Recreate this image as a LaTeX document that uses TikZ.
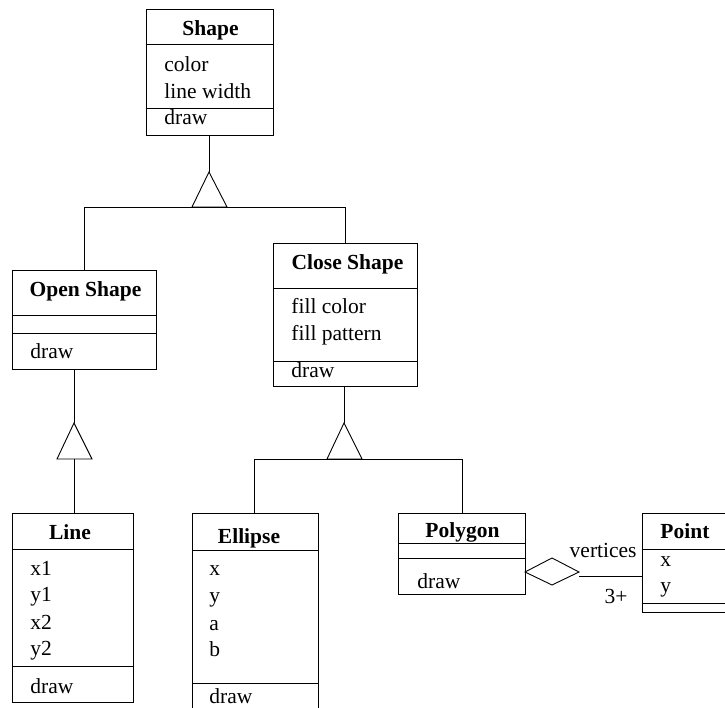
\documentclass[tikz,border=0pt]{standalone}
\usepackage{fontspec}
\setmainfont{Liberation Serif}
\begin{document}
\begin{tikzpicture}[x=1pt,y=-1pt,line width=0.9pt,
  box/.style={draw,inner sep=0pt,anchor=north west},
  txt/.style={inner sep=0pt,anchor=base west,font=\fontsize{21.5}{26}\selectfont},
  ttl/.style={inner sep=0pt,anchor=base,font=\fontsize{21.5}{26}\selectfont\bfseries},
  lbl/.style={inner sep=0pt,anchor=base east,font=\fontsize{21.5}{26}\selectfont},
  tri/.style={draw,fill=white,line join=miter}]
\useasboundingbox (0,0) rectangle (725,708);
\clip (0,0) rectangle (725,708);

% ---- boxes ----
\node[box,minimum width=127pt,minimum height=126pt] (shape) at (146,9) {};
\node[box,minimum width=144pt,minimum height=99pt] (open) at (12,270) {};
\node[box,minimum width=144pt,minimum height=143pt] (close) at (273,243) {};
\node[box,minimum width=121pt,minimum height=189pt] (line) at (12,513) {};
\node[box,minimum width=126pt,minimum height=215pt] (ellipse) at (192,513) {};
\node[box,minimum width=127pt,minimum height=81pt] (polygon) at (398,513) {};
\node[box,minimum width=88pt,minimum height=99pt] (point) at (642,513) {};

% ---- dividers ----
\foreach \n/\y in {shape/44,shape/108,open/315,open/333,close/288,close/361,
  line/549,line/666,ellipse/550,ellipse/683,polygon/543,polygon/558,point/549,point/603}
  \draw (\n.west |- 0,\y) -- (\n.east |- 0,\y);

% ---- texts ----
\node[ttl] (tshape) at (210.5,36) {Shape};
\node[txt] (shc) at (164,72) {color};
\node[txt] (shl) at (164,99) {line width};
\node[txt] (shd) at (164,125) {draw};

\node[ttl] (topen) at (85.5,297) {Open Shape};
\node[txt] (opd) at (30,359) {draw};

\node[ttl] (tclose) at (347.5,270) {Close Shape};
\node[txt] (clf) at (291,314) {fill color};
\node[txt] (clp) at (291,341) {fill pattern};
\node[txt] (cld) at (291,377) {draw};

\node[ttl] (tline) at (70,539) {Line};
\node[txt] (lx1) at (30,575) {x1};
\node[txt] (ly1) at (30,601) {y1};
\node[txt] (lx2) at (30,629) {x2};
\node[txt] (ly2) at (30,655) {y2};
\node[txt] (ld) at (30,693) {draw};

\node[ttl] (tell) at (249,543) {Ellipse};
\node[txt] (ex) at (209,575) {x};
\node[txt] (ey) at (209,602) {y};
\node[txt] (ea) at (209,630) {a};
\node[txt] (eb) at (209,656) {b};
\node[txt] (ed) at (209,703) {draw};

\node[ttl] (tpoly) at (462.5,537) {Polygon};
\node[txt] (pd) at (417,588) {draw};

\node[ttl,anchor=base west] (tpoint) at (660,538) {Point};
\node[txt] (ptx) at (660,566) {x};
\node[txt] (pty) at (660,592) {y};

% ---- generalization Shape ----
\coordinate (a1) at (209,172);
\coordinate (b1l) at (192,207);
\coordinate (b1r) at (227,207);
\coordinate (h1l) at (84,207);
\coordinate (h1r) at (345,207);
\draw (shape.south -| a1) -- (a1);
\draw[tri] (b1l) -- (a1) -- (b1r) -- cycle;
\draw (h1l) -- (h1r);
\draw (h1l) -- (open.north -| h1l);
\draw (h1r) -- (close.north -| h1r);

% ---- generalization Open Shape ----
\coordinate (a2) at (74,423);
\coordinate (b2l) at (57,459);
\coordinate (b2r) at (92,459);
\coordinate (b2m) at (74,459);
\draw (open.south -| a2) -- (a2);
\draw[tri] (b2l) -- (a2) -- (b2r) -- cycle;
\draw (b2m) -- (line.north -| b2m);

% ---- generalization Close Shape ----
\coordinate (a3) at (344,423);
\coordinate (b3l) at (327,459);
\coordinate (b3r) at (362,459);
\coordinate (h3l) at (254,459);
\coordinate (h3r) at (462,459);
\draw (close.south -| a3) -- (a3);
\draw[tri] (b3l) -- (a3) -- (b3r) -- cycle;
\draw (h3l) -- (h3r);
\draw (h3l) -- (ellipse.north -| h3l);
\draw (h3r) -- (polygon.north -| h3r);

% ---- aggregation ----
\coordinate (dl) at (525,572);
\coordinate (dt) at (552,558);
\coordinate (dr) at (579,572);
\coordinate (db) at (552,585);
\coordinate (ae) at (579,576);
\draw[line join=miter] (dl) -- (dt) -- (dr) -- (db) -- cycle;
\draw (ae) -- (point.west |- ae);
\node[lbl] (vert) at (637,557) {vertices};
\node[lbl] (mult) at (628,603) {3+};
\end{tikzpicture}
\end{document}
